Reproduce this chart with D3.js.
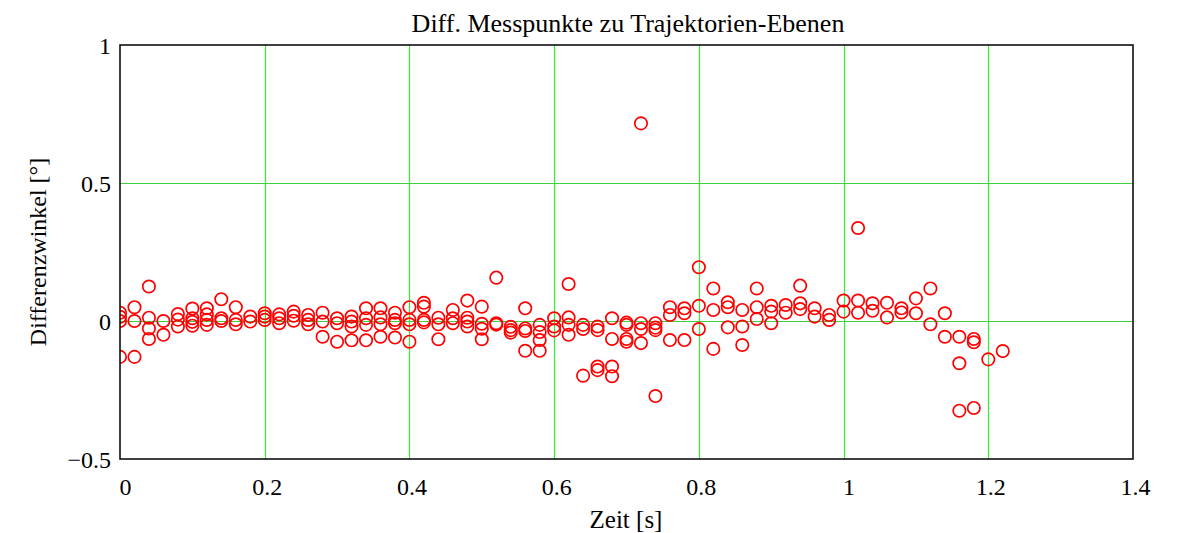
<!DOCTYPE html>
<html>
<head>
<meta charset="utf-8">
<script src="https://cdn.jsdelivr.net/npm/d3@7"></script>
<style>
  html, body { margin: 0; padding: 0; background: #fff; }
  svg { display: block; font-family: "Liberation Serif", "Times New Roman", serif; }
</style>
</head>
<body>
<svg id="chart" width="1186" height="533"></svg>
<script>
// Time stamps (s) of the measurement frames
const times = [
  0.00, 0.02, 0.04, 0.06, 0.08, 0.10, 0.12, 0.14, 0.16, 0.18,
  0.20, 0.22, 0.24, 0.26, 0.28, 0.30, 0.32, 0.34, 0.36, 0.38,
  0.40, 0.42, 0.44, 0.46, 0.48, 0.50, 0.52, 0.54, 0.56, 0.58,
  0.60, 0.62, 0.64, 0.66, 0.68, 0.70, 0.72, 0.74, 0.76, 0.78,
  0.80, 0.82, 0.84, 0.86, 0.88, 0.90, 0.92, 0.94, 0.96, 0.98,
  1.00, 1.02, 1.04, 1.06, 1.08, 1.10, 1.12, 1.14, 1.16, 1.18,
  1.20, 1.22
];

// Angle differences (°) of the measured points per frame
const diffAngles = [
  [0.030, 0.015, 0.000, -0.130],
  [0.050, 0.000, -0.130],
  [0.125, 0.012, -0.027, -0.065],
  [0.000, -0.050],
  [0.025, 0.005, -0.020],
  [0.045, 0.010, -0.003, -0.017],
  [0.046, 0.024, 0.004, -0.014],
  [0.079, 0.010, 0.000],
  [0.050, 0.004, -0.012],
  [0.016, -0.002],
  [0.028, 0.016, 0.004],
  [0.024, 0.010, -0.008],
  [0.034, 0.019, 0.001],
  [0.022, 0.004, -0.012],
  [0.030, -0.002, -0.057],
  [0.010, -0.008, -0.075],
  [0.016, -0.002, -0.020, -0.070],
  [0.046, 0.010, -0.014, -0.070],
  [0.046, 0.013, -0.012, -0.057],
  [0.030, 0.004, -0.008, -0.060],
  [0.050, 0.004, -0.012, -0.075],
  [0.066, 0.052, 0.004, -0.005],
  [0.012, -0.012, -0.066],
  [0.040, 0.010, -0.008],
  [0.074, 0.012, -0.002, -0.020],
  [0.052, -0.010, -0.028, -0.066],
  [0.157, -0.008, -0.013],
  [-0.021, -0.033, -0.042],
  [0.046, -0.027, -0.036, -0.108],
  [-0.014, -0.040, -0.069, -0.108],
  [0.010, -0.020, -0.034],
  [0.134, 0.013, -0.014, -0.050],
  [-0.014, -0.029, -0.198],
  [-0.020, -0.033, -0.165, -0.178],
  [0.010, -0.065, -0.165, -0.200],
  [-0.006, -0.014, -0.065, -0.075],
  [0.716, -0.008, -0.029, -0.080],
  [-0.008, -0.024, -0.033, -0.272],
  [0.050, 0.022, -0.069],
  [0.046, 0.028, -0.069],
  [0.195, 0.055, -0.029],
  [0.118, 0.040, -0.101],
  [0.068, 0.050, -0.023],
  [0.040, -0.020, -0.087],
  [0.118, 0.050, 0.007],
  [0.055, 0.034, -0.008],
  [0.058, 0.030],
  [0.128, 0.064, 0.043],
  [0.046, 0.016],
  [0.022, 0.004],
  [0.074, 0.034],
  [0.337, 0.074, 0.030],
  [0.064, 0.037],
  [0.066, 0.013],
  [0.046, 0.031],
  [0.082, 0.028],
  [0.118, -0.012],
  [0.028, -0.057],
  [-0.057, -0.153, -0.325],
  [-0.065, -0.077, -0.315],
  [-0.139],
  [-0.109]
];

const xTicks = [0, 0.2, 0.4, 0.6, 0.8, 1, 1.2, 1.4];
const yTicks = [-0.5, 0, 0.5, 1];
const xTickLabels = ["0", "0.2", "0.4", "0.6", "0.8", "1", "1.2", "1.4"];
const yTickLabels = ["\u22120.5", "0", "0.5", "1"];

const titleText = "Diff. Messpunkte zu Trajektorien-Ebenen";
const xLabel = "Zeit [s]";
const yLabel = "Differenzwinkel [\u00b0]";

// flatten into (t, value) pairs
const points = [];
times.forEach((t, i) => diffAngles[i].forEach(v => points.push({ t, v })));

const svg = d3.select("#chart");
const margin = { left: 120, top: 45, right: 53, bottom: 74 };
const W = 1186, H = 533;
const pw = W - margin.left - margin.right;
const ph = H - margin.top - margin.bottom;

const x = d3.scaleLinear().domain([0, 1.4]).range([margin.left, margin.left + pw]);
const y = d3.scaleLinear().domain([-0.5, 1]).range([margin.top + ph, margin.top]);

// grid lines
const grid = svg.append("g");
grid.selectAll("line.vx")
  .data(xTicks.slice(1, -1))
  .join("line")
  .attr("x1", d => Math.round(x(d)) + 0.5).attr("x2", d => Math.round(x(d)) + 0.5)
  .attr("y1", y(1)).attr("y2", y(-0.5))
  .attr("stroke", "#33ee33").attr("stroke-width", 1.2);
grid.selectAll("line.hy")
  .data(yTicks.slice(1, -1))
  .join("line")
  .attr("x1", x(0)).attr("x2", x(1.4))
  .attr("y1", d => Math.round(y(d)) + 0.5).attr("y2", d => Math.round(y(d)) + 0.5)
  .attr("stroke", "#3fcf3f").attr("stroke-width", 1);

// markers
const clipId = "plotclip";
svg.append("clipPath").attr("id", clipId)
  .append("rect").attr("x", margin.left).attr("y", margin.top).attr("width", pw).attr("height", ph);

svg.append("g").attr("clip-path", `url(#${clipId})`)
  .selectAll("circle")
  .data(points)
  .join("circle")
  .attr("cx", d => x(d.t))
  .attr("cy", d => y(d.v))
  .attr("r", 6.2)
  .attr("fill", "none")
  .attr("stroke", "#ff0000")
  .attr("stroke-width", 1.7);

// frame
svg.append("rect")
  .attr("x", margin.left).attr("y", margin.top)
  .attr("width", pw).attr("height", ph)
  .attr("fill", "none").attr("stroke", "#000").attr("stroke-width", 1.5);

// axes (labels only, no tick marks)
const xAxis = d3.axisBottom(x).tickValues(xTicks).tickSize(0)
  .tickFormat((d, i) => xTickLabels[i]);
const gx = svg.append("g").attr("transform", `translate(0,${margin.top + ph})`).call(xAxis);
gx.select(".domain").remove();
gx.selectAll("text").attr("dy", 0).attr("y", 36)
  .attr("dx", (d, i) => xTickLabels[i].length === 1 ? 5 : 2)
  .attr("font-size", 24).attr("fill", "#000")
  .attr("font-family", "Liberation Serif, Times New Roman, serif");

const yAxis = d3.axisLeft(y).tickValues(yTicks).tickSize(0)
  .tickFormat((d, i) => yTickLabels[i]);
const gy = svg.append("g").attr("transform", `translate(${margin.left},0)`).call(yAxis);
gy.select(".domain").remove();
gy.selectAll("text").attr("x", -9).attr("dy", "0.35em")
  .attr("font-size", 24).attr("fill", "#000")
  .attr("font-family", "Liberation Serif, Times New Roman, serif");

// title and axis labels
svg.append("text")
  .attr("x", 628).attr("y", 32)
  .attr("text-anchor", "middle").attr("font-size", 26)
  .text(titleText);

svg.append("text")
  .attr("x", 626).attr("y", 528)
  .attr("text-anchor", "middle").attr("font-size", 25)
  .text(xLabel);

svg.append("text")
  .attr("transform", `translate(46,252) rotate(-90)`)
  .attr("text-anchor", "middle").attr("font-size", 24)
  .text(yLabel);
</script>
</body>
</html>
